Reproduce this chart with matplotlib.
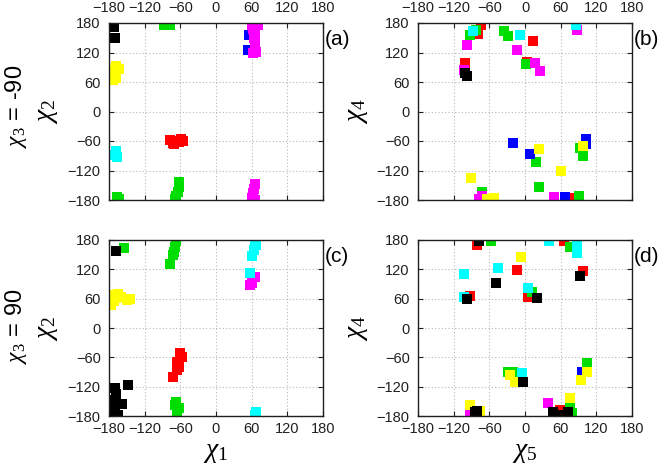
import matplotlib
matplotlib.use("Agg")
import matplotlib.pyplot as plt

plt.rcParams['font.family'] = ['Liberation Sans', 'DejaVu Sans']
plt.rcParams['mathtext.fontset'] = 'custom'
plt.rcParams['mathtext.rm'] = 'Liberation Serif'
plt.rcParams['mathtext.it'] = 'Liberation Serif:italic'

TICKS = [-180, -120, -60, 0, 60, 120, 180]
COLORS = {'red': '#ff0000', 'green': '#00dd00', 'blue': '#0000ff', 'magenta': '#ff00ff',
          'cyan': '#00ffff', 'yellow': '#ffff00', 'black': '#000000'}
ORDER = ['red', 'green', 'blue', 'magenta', 'cyan', 'yellow', 'black']

# Panel (a): chi1 vs chi2, chi3 = -90
A_RED = [(-78, -58), (-72, -64), (-66, -61), (-59, -56), (-62, -62), (-70, -67), (-56, -59)]
A_GREEN = [(-88, 176), (-78, 176), (-167, -174), (-164, -178), (-62, -143), (-63, -153),
           (-64, -163), (-67, -172), (-69, -178)]
A_BLUE = [(54, 126), (56, 156)]
A_MAGENTA = [(60, 176), (70, 176), (62, 168), (66, 160), (64, 150), (66, 140), (68, 122), (63, 120),
             (66, -148), (64, -158), (62, -166), (61, -176), (65, -180)]
A_CYAN = [(-168, -80), (-167, -92), (-170, -88)]
A_YELLOW = [(-168, 92), (-164, 86), (-172, 84), (-170, 74), (-174, 64), (-168, 68)]
A_BLACK = [(-172, 172), (-170, 150)]

# Panel (b): chi5 vs chi4, chi3 = -90
B_RED = [(-74, 176), (-79, 158), (-101, 98), (14, 143), (3, 101), (78, -176)]
B_GREEN = [(-82, 166), (-92, 155), (-36, 164), (-28, 153), (2, 96), (18, -102), (92, -75),
           (97, -91), (23, -154), (-72, -164), (91, -171)]
B_BLUE = [(-20, -64), (8, -86), (103, -56), (102, -66), (67, -174)]
B_MAGENTA = [(-98, 136), (-103, 84), (-13, 125), (16, 98), (26, 83), (88, 166), (-73, -172),
             (-77, -177), (-69, -180), (48, -174)]
B_CYAN = [(-87, 164), (-8, 155), (85, 175)]
B_YELLOW = [(24, -77), (98, -71), (60, -121), (-91, -135), (-64, -177), (-52, -176)]
B_BLACK = [(-101, 79), (-98, 73)]

# Panel (c): chi1 vs chi2, chi3 = 90
C_RED = [(-60, -52), (-58, -59), (-65, -69), (-63, -79), (-66, -86), (-73, -100)]
C_GREEN = [(-155, 163), (-67, 177), (-69, 166), (-70, 156), (-72, 149), (-77, 130),
           (-67, -151), (-69, -157), (-63, -164), (-66, -178)]
C_BLUE = []
C_MAGENTA = [(66, 104), (58, 88), (61, 93)]
C_CYAN = [(66, 178), (68, 170), (64, 160), (61, 148), (58, 113), (65, -178), (68, -172)]
C_YELLOW = [(-175, 68), (-168, 62), (-172, 55), (-176, 48), (-160, 64), (-150, 58), (-145, 60), (-165, 70)]
C_BLACK = [(-168, 157), (-148, -117), (-170, -122), (-168, -135), (-175, -148), (-158, -155),
           (-178, -160), (-170, -165), (-175, -172), (-165, -178), (-178, -178)]

# Panel (d): chi5 vs chi4, chi3 = 90
D_RED = [(-81, 170), (66, 178), (98, 117), (-13, 119), (5, 63), (-93, 65), (59, -168)]
D_GREEN = [(-57, 178), (76, 166), (12, 74), (-20, -90), (-28, -90), (104, -72), (76, -157), (79, -174)]
D_BLUE = [(96, -90)]
D_MAGENTA = [(39, -153), (-93, -178)]
D_CYAN = [(40, 178), (88, 170), (88, 153), (-103, 110), (-45, 123), (5, 82), (-103, 63), (-5, -92)]
D_YELLOW = [(-7, 145), (-25, -96), (-17, -110), (104, -90), (94, -106), (76, -143), (-93, -157), (-75, -170)]
D_BLACK = [(-77, 178), (93, 106), (-49, 92), (20, 61), (-98, 59), (-3, -110), (-84, -172),
           (-80, -170), (47, -172), (62, -178), (73, -172)]

PANELS = {
    'a': dict(red=A_RED, green=A_GREEN, blue=A_BLUE, magenta=A_MAGENTA, cyan=A_CYAN, yellow=A_YELLOW, black=A_BLACK),
    'b': dict(red=B_RED, green=B_GREEN, blue=B_BLUE, magenta=B_MAGENTA, cyan=B_CYAN, yellow=B_YELLOW, black=B_BLACK),
    'c': dict(red=C_RED, green=C_GREEN, blue=C_BLUE, magenta=C_MAGENTA, cyan=C_CYAN, yellow=C_YELLOW, black=C_BLACK),
    'd': dict(red=D_RED, green=D_GREEN, blue=D_BLUE, magenta=D_MAGENTA, cyan=D_CYAN, yellow=D_YELLOW, black=D_BLACK),
}

W, H = 666, 468
fig = plt.figure(figsize=(W / 100, H / 100), dpi=100)

def add_ax(x0, y0, x1, y1):
    return fig.add_axes([x0 / W, 1 - y1 / H, (x1 - x0) / W, (y1 - y0) / H])

boxes = {'a': (109, 23, 323, 200), 'b': (418, 23, 632, 200),
         'c': (109, 240, 323, 416), 'd': (418, 240, 632, 416)}

axes = {}
for key, box in boxes.items():
    ax = add_ax(*box)
    axes[key] = ax
    for color in ORDER:
        pts = PANELS[key][color]
        if not pts:
            continue
        xs = [p[0] for p in pts]
        ys = [p[1] for p in pts]
        ax.plot(xs, ys, 's', color=COLORS[color], markersize=7.3, markeredgewidth=0)
    ax.set_xlim(-180, 180)
    ax.set_ylim(-180, 180)
    ax.set_xticks(TICKS)
    ax.set_yticks(TICKS)
    ax.grid(True, linestyle=(0, (1, 2)), color='#b8b8b8', linewidth=0.8)
    ax.set_axisbelow(True)
    for s in ax.spines.values():
        s.set_linewidth(1.0)
        s.set_color('#202020')
    top = key in ('a', 'b')
    ax.tick_params(direction='in', length=3.5, width=0.8, top=True, right=True,
                   labeltop=top, labelbottom=not top, labelsize=10.5, colors='#202020')
    ax.tick_params(axis='y', pad=6)
    ax.tick_params(axis='x', pad=6 if top else 4)
    ax.text(1.01, 0.905, '(%s)' % key, transform=ax.transAxes, fontsize=15,
            ha='left', va='center')

# axis labels
fig.text(47 / W, 1 - 111 / H, r'$\chi_2$', rotation=90, fontsize=20, ha='center', va='center')
fig.text(47 / W, 1 - 328 / H, r'$\chi_2$', rotation=90, fontsize=20, ha='center', va='center')
fig.text(357 / W, 1 - 111 / H, r'$\chi_4$', rotation=90, fontsize=20, ha='center', va='center')
fig.text(357 / W, 1 - 328 / H, r'$\chi_4$', rotation=90, fontsize=20, ha='center', va='center')
fig.text(216 / W, 1 - 452 / H, r'$\chi_1$', fontsize=20, ha='center', va='center')
fig.text(525 / W, 1 - 452 / H, r'$\chi_5$', fontsize=20, ha='center', va='center')
fig.text(16 / W, 1 - 106 / H, r'$\chi_3$ = -90', rotation=90, fontsize=17, ha='center', va='center')
fig.text(16 / W, 1 - 326 / H, r'$\chi_3$ = 90', rotation=90, fontsize=17, ha='center', va='center')

fig.savefig('out.png', dpi=100)
